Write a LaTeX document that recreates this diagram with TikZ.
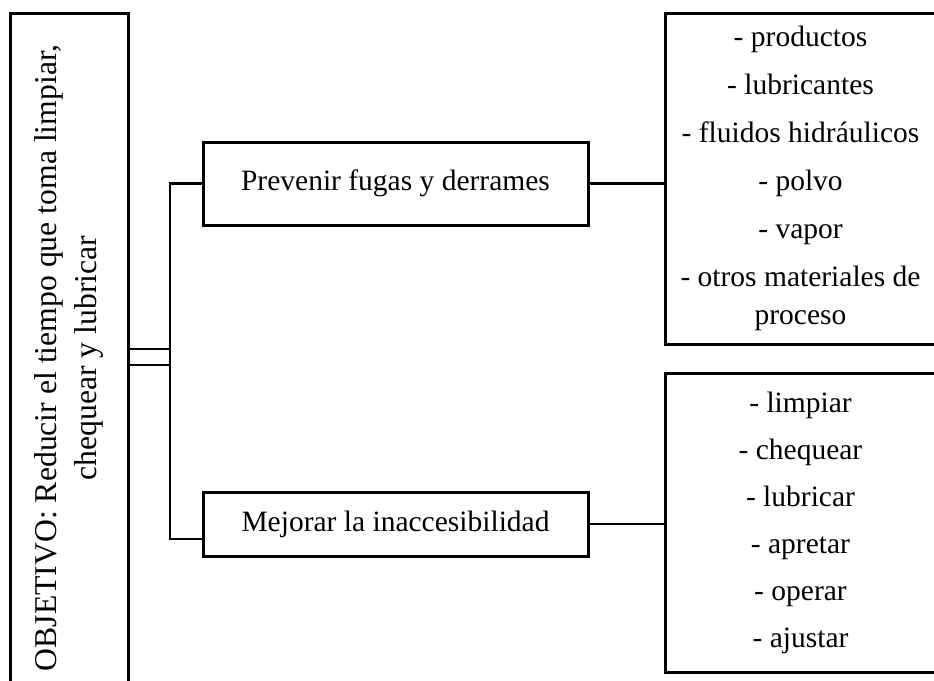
\documentclass[tikz,border=0pt]{standalone}
\usepackage{fontspec}
\setmainfont{Liberation Serif}
\begin{document}
\begin{tikzpicture}[x=1pt,y=-1pt,
  box/.style={draw, line width=3pt, inner sep=0pt, align=center},
  link/.style={line width=2.8pt},
  txt/.style={font=\fontsize{29.5}{37}\selectfont}]
\useasboundingbox (0,0) rectangle (934,680);

% objective box, running off the bottom edge
\node[box, rotate=90, minimum width=690, minimum height=118,
      font=\fontsize{31.7}{40}\selectfont] (obj) at (69,358)
  {OBJETIVO: Reducir el tiempo que toma limpiar,\\chequear y lubricar};

% the two measures
\node[box, txt, minimum width=385, minimum height=83] (prev) at (395.5,183.5)
  {Prevenir fugas y derrames};
\node[box, txt, minimum width=385, minimum height=64] (mej) at (395.5,524)
  {Mejorar la inaccesibilidad};

% lists on the right, running off the right edge
\node[box, txt, minimum width=271, minimum height=331] (lst1) at (800.5,178.5)
  {- productos\\[11pt] - lubricantes\\[11pt] - fluidos hidráulicos\\[11pt]
   - polvo\\[11pt] - vapor\\[11pt] - otros materiales de\\[1pt] proceso};
\node[box, txt, minimum width=271, minimum height=299] (lst2) at (800.5,522.5)
  {- limpiar\\[10pt] - chequear\\[10pt] - lubricar\\[10pt]
   - apretar\\[10pt] - operar\\[10pt] - ajustar};

% junction points of the bracket
\coordinate (jtop) at (170,183.5);
\coordinate (jbot) at (170,539);
\coordinate (d1) at (170,349);
\coordinate (d2) at (170,365);

\draw[link] (d1 -| obj.south) -- (d1);
\draw[link] (d2 -| obj.south) -- (d2);
\draw[link] (prev.west) -- (jtop) -- (jbot) -- (jbot -| mej.west);
\draw[link] (prev.east) -- (prev.east -| lst1.west);
\draw[link] (mej.east) -- (mej.east -| lst2.west);
\end{tikzpicture}
\end{document}
